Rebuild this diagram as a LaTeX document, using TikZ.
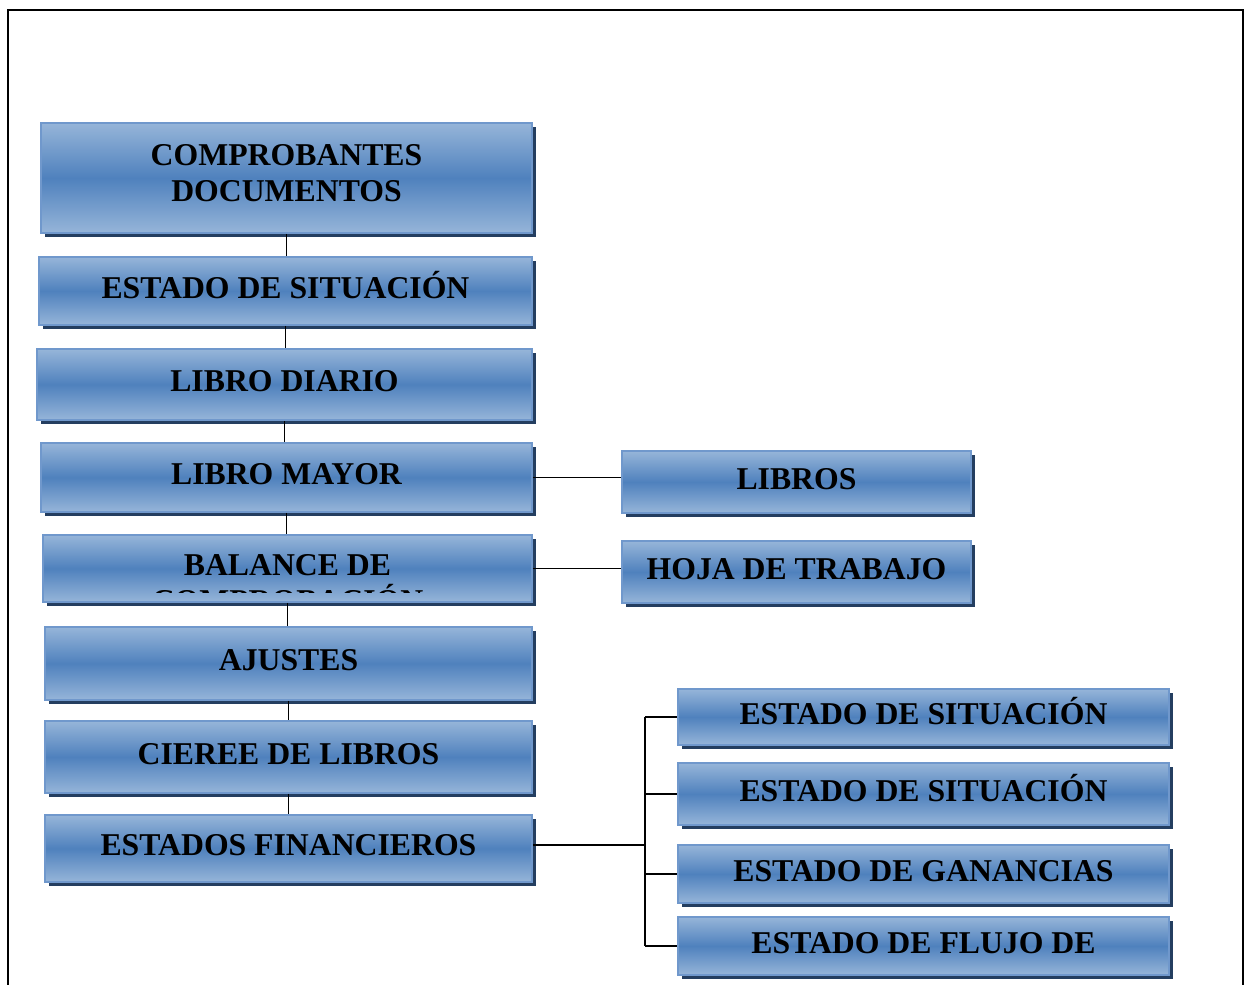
\documentclass[tikz,border=0pt]{standalone}
\usepackage{fontspec}
\setmainfont{Liberation Serif}
\usepackage{tikz}
\usetikzlibrary{shadows,calc}
\definecolor{boxmid}{RGB}{79,129,189}
\definecolor{boxlight}{RGB}{150,181,217}
\definecolor{boxedge}{RGB}{112,152,204}
\definecolor{boxshadow}{RGB}{36,62,96}
\tikzset{
    stagebox/.style={draw=boxedge, line width=1.2pt, inner sep=0pt, align=center,
        top color=boxlight, bottom color=boxlight, middle color=boxmid,
        drop shadow={shadow xshift=3pt, shadow yshift=-3pt, fill=boxshadow, opacity=1},
        text height=15pt, text depth=4.5pt,
        font=\fontsize{23.8}{27}\selectfont\bfseries},
    boxsize/.style 2 args={minimum width=#1*0.75pt, minimum height=#2*0.75pt},
    link/.style={line width=1.2pt, black}
}

\begin{document}
\begin{tikzpicture}[x=0.75pt, y=-0.75pt]
    \useasboundingbox (0,0) rectangle (1251,984);
    \draw[line width=1.6pt] (8,10) rectangle (1243,1010);

    % main column
    \node[stagebox, boxsize={491}{110}, text height=35.25pt, text depth=0pt] (comp) at (286.5,178) {COMPROBANTES\\DOCUMENTOS};
    \node[stagebox, boxsize={493}{68}] (sit) at (285.5,291) {ESTADO DE SITUACIÓN};
    \node[stagebox, boxsize={495}{71}] (diario) at (284.5,384.5) {LIBRO DIARIO};
    \node[stagebox, boxsize={491}{69}] (mayor) at (286.5,477.5) {LIBRO MAYOR};
    \node[stagebox, boxsize={489}{67}] (balance) at (287.5,568.5) {BALANCE DE};
    \node[stagebox, boxsize={487}{73}] (ajustes) at (288.5,663.5) {AJUSTES};
    \node[stagebox, boxsize={487}{72}] (cierre) at (288.5,757) {CIEREE DE LIBROS};
    \node[stagebox, boxsize={487}{67}] (estados) at (288.5,848.5) {ESTADOS FINANCIEROS};

    % second line of the balance box, cut off by the box
    \begin{scope}
        \clip (43,535) rectangle (532,592);
        \node[font=\fontsize{23.8}{27}\selectfont\bfseries, anchor=base, inner sep=0pt]
            (comprob) at (287.5,611) {COMPROBACIÓN};
    \end{scope}

    % side boxes
    \node[stagebox, boxsize={349}{62}] (libros) at (796.5,482) {LIBROS};
    \node[stagebox, boxsize={349}{62}] (hoja) at (796.5,572) {HOJA DE TRABAJO};

    % financial statements
    \node[stagebox, boxsize={491}{56}] (est1) at (923.5,717) {ESTADO DE SITUACIÓN};
    \node[stagebox, boxsize={491}{62}] (est2) at (923.5,794) {ESTADO DE SITUACIÓN};
    \node[stagebox, boxsize={491}{58}] (est3) at (923.5,874) {ESTADO DE GANANCIAS};
    \node[stagebox, boxsize={491}{58}] (est4) at (923.5,946) {ESTADO DE FLUJO DE};

    % connectors
    \foreach \up/\down in {comp/sit, sit/diario, diario/mayor, mayor/balance,
                           balance/ajustes, ajustes/cierre, cierre/estados} {
        \draw[link] (\up.south) -- (\up.south |- \down.north);
    }
    \draw[link] (mayor.east) -- (mayor.east -| libros.west);
    \draw[link] (balance.east) -- (balance.east -| hoja.west);

    \coordinate (fork) at (645,845);
    \draw[link] (estados.east |- fork) -- (fork);
    \draw[link] (fork |- est1.west) -- (fork |- est4.west);
    \foreach \st in {est1, est2, est3, est4} {
        \draw[link] (fork |- \st.west) -- (\st.west);
    }
\end{tikzpicture}
\end{document}
